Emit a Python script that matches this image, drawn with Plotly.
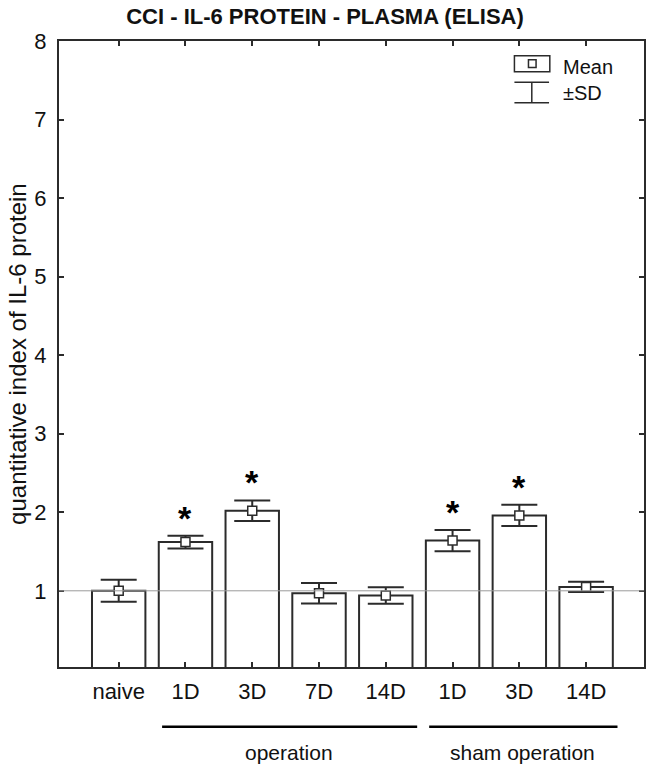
import plotly.graph_objects as go

categories = ["naive", "1D", "3D", "7D", "14D", "1D", "3D", "14D"]
means = [1.00, 1.62, 2.02, 0.97, 0.94, 1.64, 1.96, 1.05]
sds = [0.14, 0.08, 0.13, 0.13, 0.105, 0.135, 0.135, 0.065]
significant = [False, True, True, False, False, True, True, False]
y_ticks = [1, 2, 3, 4, 5, 6, 7, 8]
groups = [("operation", 1, 4), ("sham operation", 5, 7)]

x = list(range(len(categories)))
INK = "#2b2b2b"
FONT = "Liberation Sans, Arial, sans-serif"

fig = go.Figure()
fig.add_trace(go.Bar(
    x=x, y=means, width=0.8,
    marker=dict(color="white", line=dict(color=INK, width=2)),
    showlegend=False, hoverinfo="skip",
))
fig.add_trace(go.Scatter(
    x=x, y=means, mode="markers",
    marker=dict(symbol="square", size=9, color="white", line=dict(color=INK, width=1.5)),
    error_y=dict(type="data", array=sds, visible=True, color=INK, thickness=2, width=18),
    showlegend=False, hoverinfo="skip",
))

# reference line at 1
fig.add_shape(type="line", xref="paper", x0=0, x1=1, yref="y", y0=1, y1=1,
              line=dict(color="#9a9a9a", width=1), layer="above")

# asterisks
for xi, m, s, sig in zip(x, means, sds, significant):
    if sig:
        fig.add_annotation(x=xi, y=m + s, xref="x", yref="y", text="<b>*</b>", showarrow=False,
                           font=dict(size=34, color="black", family=FONT),
                           yanchor="bottom", yshift=-3)

# group lines and labels
for name, a, b in groups:
    fig.add_shape(type="line", xref="x", yref="paper", x0=a - 0.35, x1=b + 0.47,
                  y0=-0.0955, y1=-0.0955, line=dict(color="black", width=2.5))
    fig.add_annotation(x=(a + b) / 2 + 0.05, y=-0.137, xref="x", yref="paper", text=name,
                       showarrow=False, font=dict(size=21, color="#111", family=FONT),
                       yanchor="middle")

# legend (custom)
L = dict(color=INK, width=1.5)
fig.add_shape(type="rect", xref="paper", yref="paper", x0=0.7785, x1=0.839, y0=0.951, y1=0.9765,
              line=L, fillcolor="white")
fig.add_shape(type="rect", xref="paper", yref="paper", x0=0.8025, x1=0.8155, y0=0.9575, y1=0.970,
              line=L, fillcolor="white")
fig.add_shape(type="line", xref="paper", yref="paper", x0=0.7785, x1=0.8377, y0=0.934, y1=0.934, line=L)
fig.add_shape(type="line", xref="paper", yref="paper", x0=0.7785, x1=0.8377, y0=0.9014, y1=0.9014, line=L)
fig.add_shape(type="line", xref="paper", yref="paper", x0=0.8082, x1=0.8082, y0=0.9014, y1=0.934, line=L)
fig.add_annotation(x=0.858, y=0.959, xref="paper", yref="paper", text="Mean", showarrow=False,
                   xanchor="left", yanchor="middle", font=dict(size=20, color="#111", family=FONT))
fig.add_annotation(x=0.858, y=0.9165, xref="paper", yref="paper", text="±SD", showarrow=False,
                   xanchor="left", yanchor="middle", font=dict(size=20, color="#111", family=FONT))

# y axis title
fig.add_annotation(x=-0.072, y=0.5, xref="paper", yref="paper",
                   text="quantitative index of IL-6 protein", textangle=-90, showarrow=False,
                   xanchor="center", yanchor="middle", font=dict(size=24, color="#111", family=FONT))

fig.update_layout(
    width=650, height=765,
    margin=dict(l=59, r=4, t=41, b=98),
    paper_bgcolor="white", plot_bgcolor="white",
    title=dict(text="<b>CCI - IL-6 PROTEIN - PLASMA (ELISA)</b>", x=0.5, xanchor="center",
               y=1 - 16 / 765, yanchor="middle", font=dict(size=22, color="#111", family=FONT)),
    bargap=0.2,
)
fig.update_xaxes(
    range=[-0.894, 7.867], tickvals=x, ticktext=categories,
    showline=True, linecolor=INK, linewidth=2, mirror="allticks",
    ticks="inside", ticklen=5, tickcolor=INK, tickwidth=1.5,
    showgrid=False, zeroline=False, ticklabelstandoff=4,
    tickfont=dict(size=22, color="#111", family=FONT),
)
fig.update_yaxes(
    range=[0.03, 8], tickvals=y_ticks,
    showline=True, linecolor=INK, linewidth=2, mirror="allticks",
    ticks="inside", ticklen=5, tickcolor=INK, tickwidth=1.5,
    showgrid=False, zeroline=False, ticklabelstandoff=6,
    tickfont=dict(size=22, color="#111", family=FONT),
)

fig.write_html("out.html", config={"displayModeBar": False},
               post_script="document.body.style.margin='0';document.body.style.padding='0';")
